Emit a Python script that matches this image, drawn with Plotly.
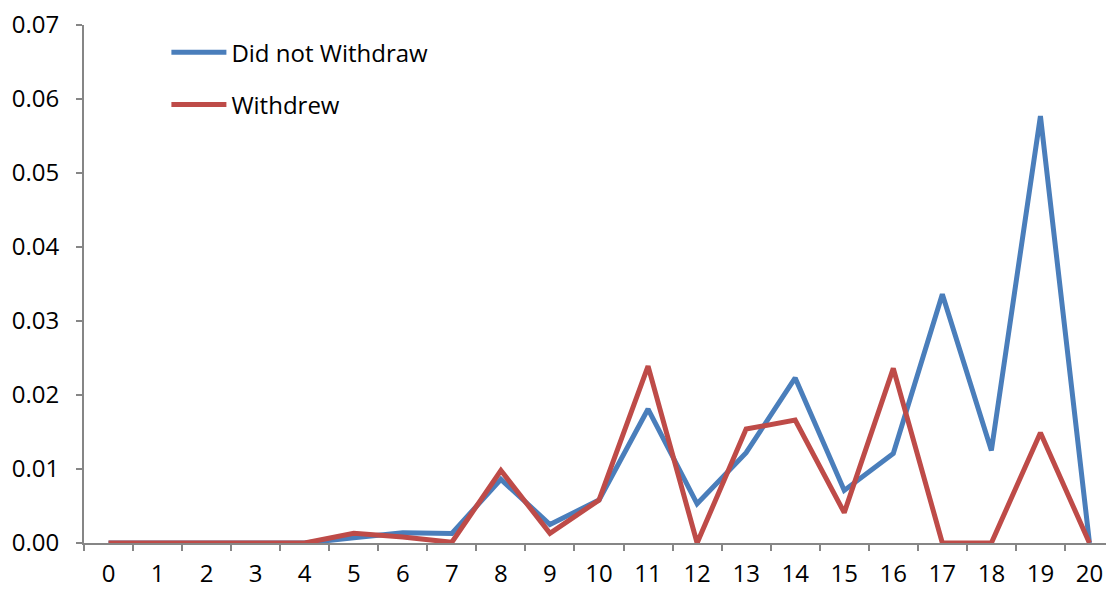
import plotly.graph_objects as go

categories = [str(i) for i in range(21)]
did_not_withdraw = [0, 0, 0, 0, 0, 0.0007, 0.0014, 0.0013, 0.0086, 0.0025, 0.0058,
                    0.0181, 0.0053, 0.0122, 0.0223, 0.0071, 0.0121, 0.0336, 0.0125, 0.0577, 0]
withdrew = [0, 0, 0, 0, 0, 0.0013, 0.0008, 0.0001, 0.0098, 0.0013, 0.0058,
            0.0239, 0, 0.0154, 0.0166, 0.0041, 0.0236, 0, 0, 0.0149, 0]
y_ticks = [0.00, 0.01, 0.02, 0.03, 0.04, 0.05, 0.06, 0.07]

BLUE = "#4a7ebb"
RED = "#be4b48"
AXIS = "#868686"

fig = go.Figure()
fig.add_trace(go.Scatter(x=categories, y=did_not_withdraw, mode="lines", name="Did not Withdraw",
                         line=dict(color=BLUE, width=5), legendgroup="a"))
fig.add_trace(go.Scatter(x=categories, y=withdrew, mode="lines", name="Withdrew",
                         line=dict(color=RED, width=5), legendgroup="b"))

# page body has an 8px margin, so the figure is a bit smaller than the window
fig.update_layout(
    width=1106, height=583,
    margin=dict(l=76, r=0, t=17, b=48),
    plot_bgcolor="white", paper_bgcolor="white",
    font=dict(family="Open Sans", size=24, color="black"),
    showlegend=True,
    legend=dict(x=0.08, y=0.99, xanchor="left", yanchor="top",
                bgcolor="rgba(0,0,0,0)", tracegroupgap=18, itemwidth=55,
                font=dict(size=24)),
    xaxis=dict(type="category", range=[-0.5, 20.5], showgrid=False, zeroline=False,
               showline=True, linecolor=AXIS, linewidth=2, ticks="outside",
               tickson="boundaries", ticklen=6, tickcolor=AXIS, tickwidth=2,
               ticklabelstandoff=8, ticklabeloverflow="allow", automargin=False),
    yaxis=dict(range=[0, 0.07], tickvals=y_ticks, tickformat=".2f", showgrid=False,
               zeroline=False, showline=True, linecolor=AXIS, linewidth=2,
               ticks="outside", ticklen=6, tickcolor=AXIS, tickwidth=2,
               ticklabelstandoff=12, ticklabeloverflow="allow", automargin=False),
)

fig.write_html("out.html")
